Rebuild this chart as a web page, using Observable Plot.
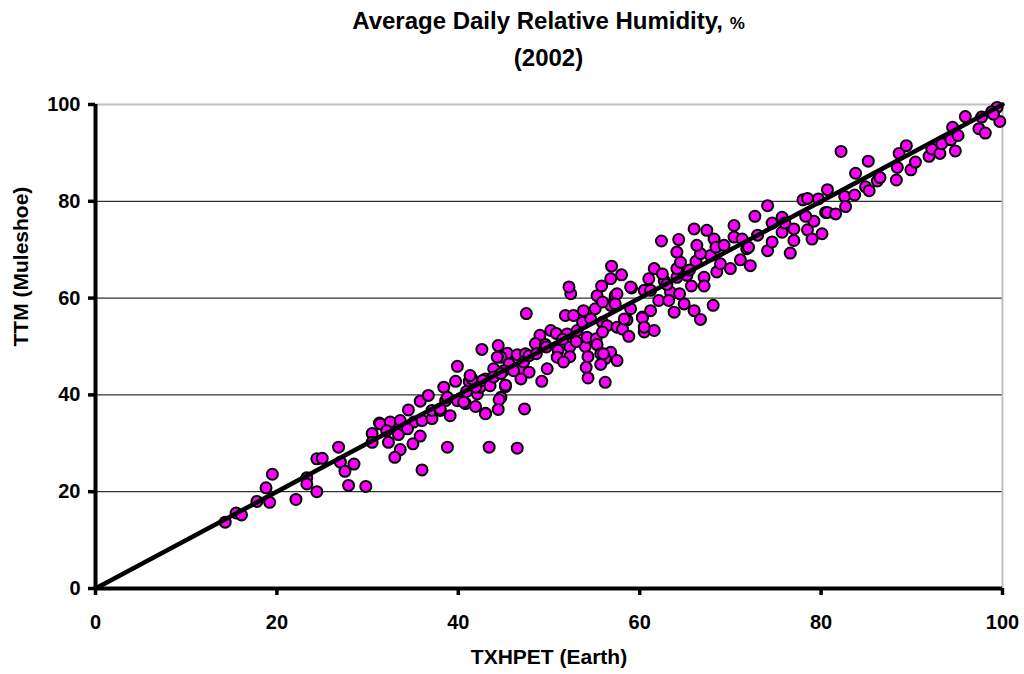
<!DOCTYPE html>
<html>
<head>
<meta charset="utf-8">
<script src="https://cdn.jsdelivr.net/npm/d3@7"></script>
<script src="https://cdn.jsdelivr.net/npm/@observablehq/plot@0.6"></script>
<style>
  html, body { margin: 0; padding: 0; background: #fff; }
  body { width: 1024px; height: 674px; position: relative; overflow: hidden; font-family: "Liberation Sans", Arial, sans-serif; }
  #title { position: absolute; left: 95px; width: 907px; top: 4px; text-align: center; font-weight: bold; font-size: 24px; line-height: 34px; color: #000; }
  #title .pct { font-size: 17px; }
  #chart { position: absolute; left: 0; top: 80px; }
</style>
</head>
<body>
<div id="title"></div>
<div id="chart"></div>
<script>
const titleMain = "Average Daily Relative Humidity, ";
const titleUnit = "%";
const subtitle = "(2002)";
const xLabel = "TXHPET (Earth)";
const yLabel = "TTM (Muleshoe)";
const xTicks = [0, 20, 40, 60, 80, 100];
const yTicks = [0, 20, 40, 60, 80, 100];
const gridLines = [20, 40, 60, 80];
const oneToOne = [0, 100];

// TXHPET (Earth) daily values
const earth = [
 14.3,15.5,16.1,17.8,18.8,19.5,19.2,22.1,23.3,23.3,24.4,24.4,25.0,26.8,27.0,27.5,27.9,28.5,29.8,
 30.5,30.5,31.3,32.4,31.4,32.5,33.6,32.1,33.4,32.3,33.6,33.0,35.0,35.8,36.0,34.5,35.1,36.0,37.1,37.1,38.0,39.1,35.8,36.7,38.6,39.9,40.8,41.9,43.0,38.4,39.7,41.2,39.9,38.8,43.4,46.5,42.1,40.9,42.4,43.0,38.0,38.8,40.6,34.4,
 42.6,44.4,45.4,46.5,47.4,44.7,45.6,46.9,47.8,46.9,45.0,43.9,42.7,43.5,45.2,41.9,41.5,44.7,44.5,44.4,47.3,43.0,41.3,43.9,44.7,45.2,46.1,47.2,44.3,47.8,47.5,49.0,48.5,49.6,49.8,49.2,48.6,49.7,
 50.2,50.8,52.0,53.1,51.0,52.3,54.0,54.2,55.2,55.3,55.7,56.8,56.2,57.5,54.3,52.3,50.9,51.6,55.7,54.1,54.3,56.2,51.8,52.7,53.8,55.1,55.3,52.4,52.2,55.8,56.8,55.9,57.3,53.7,54.6,55.9,56.4,57.5,55.9,56.9,58.0,56.8,59.1,57.5,58.6,58.1,58.8,57.3,58.3,59.0,56.0,53.0,51.5,
 60.5,61.6,60.3,61.2,62.1,60.5,61.2,63.4,64.4,63.2,64.9,66.0,63.8,66.7,68.1,60.3,60.5,59.0,61.0,62.7,61.6,62.5,64.1,65.2,67.1,67.1,65.7,64.1,64.5,66.2,68.5,70.0,68.9,67.8,66.7,64.1,62.4,64.3,66.3,68.2,68.4,69.3,70.4,71.3,71.8,66.0,67.4,70.4,71.1,72.2,63.0,65.5,
 74.1,72.7,75.7,74.6,77.0,78.5,79.2,80.1,80.5,74.1,74.6,77.0,76.6,79.0,72.0,75.7,78.3,78.0,78.5,79.7,80.7,80.7,81.6,73.0,76.0,
 82.2,82.6,82.7,83.7,84.9,85.3,83.8,85.2,86.2,86.5,88.3,88.4,88.6,89.4,89.9,90.4,91.9,92.2,93.1,93.3,94.3,95.1,94.8,94.5,95.9,97.7,97.4,98.1,99.4,99.7,98.8,99.0
];
// TTM (Muleshoe) daily values
const muleshoe = [
 13.7,15.6,15.2,18.0,20.8,23.6,17.8,18.4,22.9,21.6,20.0,26.8,26.9,29.2,26.1,24.2,21.3,25.7,21.1,
 32.0,30.2,34.2,34.2,34.0,34.4,34.7,32.6,31.8,30.2,28.7,27.1,29.9,31.5,24.5,36.9,34.4,34.7,35.1,36.8,36.8,35.7,38.7,39.9,38.8,38.8,38.2,37.6,36.2,41.6,42.8,42.8,45.9,29.2,29.2,29.0,40.2,40.7,41.6,43.3,37.1,39.5,38.5,33.0,
 49.4,50.2,48.6,48.3,48.5,47.8,46.4,45.4,44.7,43.3,45.0,45.4,43.0,41.9,41.7,41.6,43.3,39.5,39.0,37.0,37.1,36.1,44.0,43.7,44.4,42.0,45.0,46.8,47.8,48.1,56.8,52.3,50.6,50.4,45.4,42.8,48.5,49.9,
 53.3,52.7,52.6,53.3,49.2,49.9,50.0,51.9,51.6,50.4,48.5,48.8,47.5,47.1,47.9,47.9,47.8,46.8,46.3,45.7,43.5,42.6,56.4,56.4,57.4,57.8,60.5,60.9,62.3,62.5,58.5,59.2,60.5,55.0,55.7,55.0,54.3,54.0,53.0,66.6,64.8,64.0,62.1,60.9,55.5,53.6,52.1,58.8,55.7,57.8,48.5,51.0,51.5,
 53.0,53.3,56.1,57.4,59.5,61.6,61.6,61.2,60.9,59.5,58.8,57.4,57.1,55.6,58.5,55.9,54.0,62.3,64.0,63.6,66.1,65.0,64.3,64.7,64.3,62.5,62.5,66.1,67.4,67.6,65.4,66.1,67.1,68.8,69.2,69.5,71.8,72.1,70.9,72.2,70.5,70.9,72.6,72.2,70.2,74.3,74.0,75.0,67.9,66.7,62.8,65.8,
 79.1,76.9,76.7,75.5,74.3,74.1,75.9,73.3,77.7,69.8,71.6,71.9,69.3,72.2,70.5,73.6,76.9,80.3,80.6,80.5,82.4,77.7,77.4,73.0,75.5,
 90.3,81.0,78.9,81.3,83.0,82.2,85.8,88.3,84.2,84.9,84.4,87.0,89.9,91.5,86.5,88.1,89.3,90.8,89.9,91.9,92.7,93.6,90.4,95.3,97.5,97.4,95.0,94.1,99.4,96.5,98.5,98.0
];

// title (HTML, above the SVG)
const titleEl = document.getElementById("title");
titleEl.append(titleMain);
const pct = document.createElement("span");
pct.className = "pct";
pct.textContent = titleUnit;
titleEl.append(pct, document.createElement("br"), subtitle);

const days = earth.map((e, i) => ({earth: e, muleshoe: muleshoe[i]}));
const lineData = oneToOne.map(v => ({earth: v, muleshoe: v}));

const font = "Liberation Sans, Arial, sans-serif";
const chart = Plot.plot({
  width: 1024,
  height: 594,
  marginLeft: 95,
  marginRight: 22,
  marginTop: 24,
  marginBottom: 86,
  style: {fontFamily: font, background: "#fff", color: "#000"},
  x: {domain: [0, 100]},
  y: {domain: [0, 100]},
  marks: [
    Plot.ruleY(gridLines, {stroke: "#000", strokeWidth: 1}),
    Plot.ruleY([100], {stroke: "#c0c0c0", strokeWidth: 2}),
    Plot.ruleX([100], {stroke: "#c0c0c0", strokeWidth: 2}),
    Plot.axisX({ticks: xTicks, tickSize: 7, tickPadding: 19, strokeWidth: 3.5, fontSize: 20, fontWeight: "bold", label: null, tickFormat: d => d}),
    Plot.axisY({ticks: yTicks, tickSize: 7, tickPadding: 8, strokeWidth: 3.5, fontSize: 20, fontWeight: "bold", label: null, tickFormat: d => d}),
    Plot.dot(days, {x: "earth", y: "muleshoe", r: 5.5, fill: "#ff00ff", stroke: "#000", strokeWidth: 2}),
    Plot.line(lineData, {x: "earth", y: "muleshoe", stroke: "#000", strokeWidth: 4.5}),
    Plot.ruleX([0], {stroke: "#000", strokeWidth: 4}),
    Plot.ruleY([0], {stroke: "#000", strokeWidth: 4}),
    Plot.text([xLabel], {frameAnchor: "bottom", dy: 75, fontSize: 21, fontWeight: "bold", fill: "#000"}),
    Plot.text([yLabel], {frameAnchor: "left", dx: -74, rotate: -90, fontSize: 21, fontWeight: "bold", fill: "#000"})
  ]
});
document.getElementById("chart").appendChild(chart);
</script>
</body>
</html>
